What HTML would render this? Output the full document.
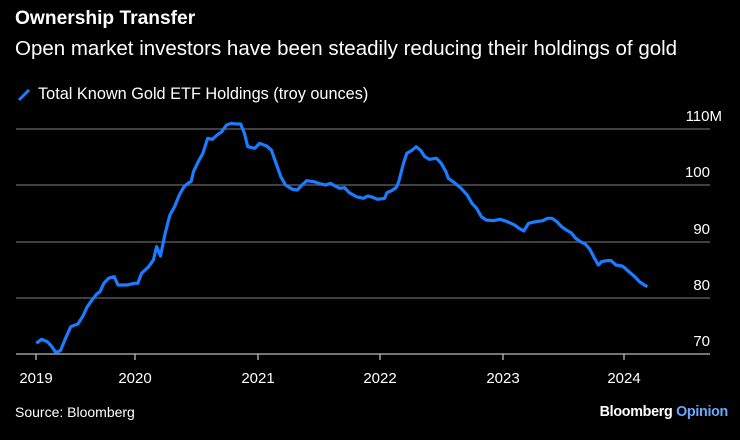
<!DOCTYPE html>
<html><head><style>
body{margin:0;width:740px;height:440px;background:#000;overflow:hidden;font-family:"Liberation Sans",Arial,sans-serif;color:#fff}
.t{position:absolute;left:15px;top:8px;font-size:19.2px;font-weight:bold}
.s{position:absolute;left:15px;top:37px;font-size:20.5px}
.l{position:absolute;left:38px;top:85px;font-size:16.3px}
.src{position:absolute;left:15px;top:404px;font-size:14px}
.bo{position:absolute;right:12px;top:404px;font-size:14.3px;font-weight:bold;letter-spacing:-0.3px}
</style></head><body>
<div class="t">Ownership Transfer</div>
<div class="s">Open market investors have been steadily reducing their holdings of gold</div>
<svg style="position:absolute;left:17px;top:88px" width="14" height="14"><line x1="2" y1="12" x2="12" y2="2" stroke="#1a7cff" stroke-width="3"/></svg>
<div class="l">Total Known Gold ETF Holdings (troy ounces)</div>
<svg width="740" height="440" style="position:absolute;left:0;top:0">
<g stroke="#666" stroke-width="1.3">
<line x1="16" y1="129" x2="710" y2="129"/><line x1="16" y1="185" x2="710" y2="185"/>
<line x1="16" y1="242" x2="710" y2="242"/><line x1="16" y1="298" x2="710" y2="298"/>
</g>
<line x1="16" y1="354" x2="710" y2="354" stroke="#bbb" stroke-width="1.3"/>
<g stroke="#bbb" stroke-width="1.3">
<line x1="36" y1="354" x2="36" y2="360"/><line x1="135" y1="354" x2="135" y2="360"/><line x1="258" y1="354" x2="258" y2="360"/><line x1="380" y1="354" x2="380" y2="360"/><line x1="503" y1="354" x2="503" y2="360"/><line x1="624" y1="354" x2="624" y2="360"/>
</g>
<g fill="#fff" font-size="15" font-family="Liberation Sans,Arial,sans-serif">
<text x="722" y="121" text-anchor="end">110M</text>
<text x="710" y="177" text-anchor="end">100</text>
<text x="710" y="234" text-anchor="end">90</text>
<text x="710" y="290" text-anchor="end">80</text>
<text x="710" y="346" text-anchor="end">70</text>
<g text-anchor="middle">
<text x="36" y="383">2019</text><text x="135" y="383">2020</text><text x="258" y="383">2021</text><text x="380" y="383">2022</text><text x="503" y="383">2023</text><text x="624" y="383">2024</text>
</g></g>
<g transform="translate(0,100) scale(0.4719,0.3333)">
<polyline fill="none" stroke="#1a7cff" stroke-width="3.2" vector-effect="non-scaling-stroke" stroke-linejoin="round" points="77,730 88,718 100,725 110,740 118,757 128,752 138,718 150,680 165,672 175,650 185,620 195,600 205,582 212,575 220,550 230,535 242,530 250,555 270,555 285,550 292,550 300,520 315,500 325,480 332,440 340,468 350,400 360,345 370,320 380,285 390,260 400,248 405,245 410,215 420,185 430,160 440,115 450,118 460,105 470,95 480,75 490,70 500,72 510,72 518,100 525,140 540,145 550,130 565,138 575,150 585,190 595,230 605,255 620,268 630,270 640,255 650,242 665,245 680,252 690,255 700,250 710,258 720,265 730,263 740,278 755,290 770,295 780,288 790,292 800,298 815,295 820,278 830,272 840,262 845,245 855,190 862,160 872,152 882,140 892,152 900,170 910,178 925,175 935,190 945,215 950,235 960,245 975,262 990,285 1000,310 1010,325 1020,350 1030,360 1045,362 1060,358 1075,365 1090,375 1100,385 1110,393 1120,370 1135,365 1150,362 1160,355 1170,355 1180,365 1190,380 1200,390 1210,398 1220,415 1230,425 1240,432 1250,448 1258,470 1268,495 1275,485 1285,482 1295,482 1305,495 1318,498 1325,505 1335,518 1345,530 1355,545 1365,555 1372,560"/>
</g>
</svg>
<div class="src">Source: Bloomberg</div>
<div class="bo">Bloomberg <span style="color:#6aa8ff">Opinion</span></div>
</body></html>
